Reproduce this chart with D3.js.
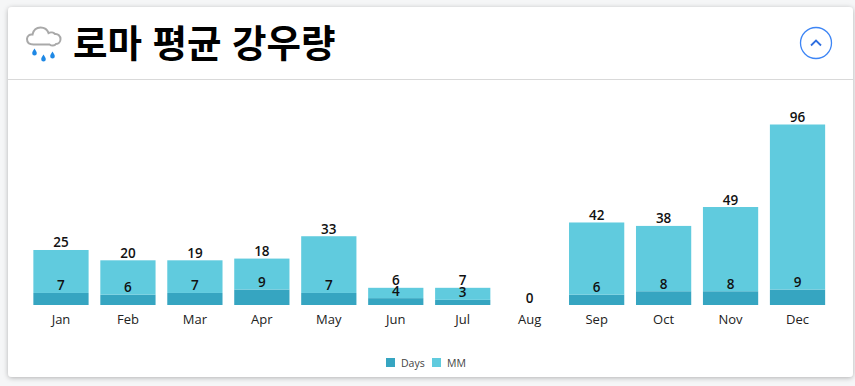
<!DOCTYPE html>
<html lang="ko">
<head>
<meta charset="utf-8">
<title>로마 평균 강우량</title>
<script src="https://cdn.jsdelivr.net/npm/d3@7"></script>
<style>
  html, body { margin: 0; padding: 0; background: #f5f6f7; overflow: hidden; }
  svg { display: block; }
</style>
</head>
<body>
<div id="chart"></div>
<script>
// Chart data
const months = ["Jan", "Feb", "Mar", "Apr", "May", "Jun", "Jul", "Aug", "Sep", "Oct", "Nov", "Dec"];
const days = [7, 6, 7, 9, 7, 4, 3, 0, 6, 8, 8, 9];
const mm = [25, 20, 19, 18, 33, 6, 7, 0, 42, 38, 49, 96];
const seriesNames = ["Days", "MM"];
const titleText = "로마 평균 강우량";

const width = 855;
const height = 386;
const colors = d3.scaleOrdinal().domain(seriesNames).range(["#36a5c1", "#60cbde"]);
const labelFont = "'Open Sans', 'Noto Sans', sans-serif";

const svg = d3.select("#chart")
  .append("svg")
  .attr("width", width)
  .attr("height", height);

const defs = svg.append("defs");
const shadow = defs.append("filter").attr("id", "cardShadow")
  .attr("x", "-5%").attr("y", "-5%").attr("width", "110%").attr("height", "110%");
shadow.append("feDropShadow")
  .attr("dx", 0).attr("dy", 1).attr("stdDeviation", 2.5)
  .attr("flood-color", "#000").attr("flood-opacity", 0.28);

// Card and header
svg.append("rect")
  .attr("x", 8).attr("y", 7)
  .attr("width", 845).attr("height", 370)
  .attr("rx", 4)
  .attr("fill", "#fff")
  .attr("filter", "url(#cardShadow)");

svg.append("line")
  .attr("x1", 8).attr("x2", 853)
  .attr("y1", 79.5).attr("y2", 79.5)
  .attr("stroke", "#d9d9d9");

svg.append("text")
  .attr("x", 73).attr("y", 57)
  .attr("font-family", "'Noto Sans CJK KR', sans-serif")
  .attr("font-weight", 700)
  .attr("font-size", 37.5)
  .attr("fill", "#000")
  .text(titleText);

// Rain cloud icon
const icon = svg.append("g").attr("transform", "translate(26.500,26.500)");
icon.append("path")
  .attr("d", "M7 18 C2.500 18 0.500 15.500 0.500 12.500 C0.500 9.500 3 7.500 6 8 C7 3.500 10 1 14 1 C18 1 21 3.500 22 6.500 C24 5.500 27 6 28.500 7.500 C31.500 7 34 9.500 34 12.500 C34 15.500 32 17.500 29.500 17.500 C28 19.500 25 19.500 23 18 Z")
  .attr("fill", "#fff")
  .attr("stroke", "#a9a9a9")
  .attr("stroke-width", 2);
const drops = [[8, 26], [17, 32], [26, 29]];
icon.selectAll("path.drop")
  .data(drops)
  .join("path")
  .attr("class", "drop")
  .attr("transform", d => `translate(${d[0]},${d[1]})`)
  .attr("d", "M0 -4 C1 -2 2.300 -1 2.300 0.800 A2.300 2.300 0 0 1 -2.300 0.800 C-2.300 -1 -1 -2 0 -4 Z")
  .attr("fill", "#1e88e5");

// Collapse button
const button = svg.append("g").attr("transform", "translate(816,43)");
button.append("circle")
  .attr("r", 15.500)
  .attr("fill", "#fff")
  .attr("stroke", "#3d85f5")
  .attr("stroke-width", 1.3);
button.append("path")
  .attr("d", "M-5 2.500 L0 -2.500 L5 2.500")
  .attr("fill", "none")
  .attr("stroke", "#2f6fe0")
  .attr("stroke-width", 1.800);

// Scales
const x = d3.scaleBand()
  .domain(months)
  .range([27.500, 831])
  .paddingInner(0.175)
  .paddingOuter(0.0875);

const y = d3.scaleLinear()
  .domain([0, 105])
  .range([305, 124.500]);

const rows = months.map((m, i) => ({ month: m, Days: days[i], MM: mm[i] }));
const stacked = d3.stack().keys(seriesNames)(rows);

// Bars
svg.append("g")
  .selectAll("g")
  .data(stacked)
  .join("g")
  .attr("fill", d => colors(d.key))
  .selectAll("rect")
  .data(d => d)
  .join("rect")
  .attr("x", d => x(d.data.month))
  .attr("y", d => y(d[1]))
  .attr("width", x.bandwidth())
  .attr("height", d => y(d[0]) - y(d[1]));

// Value labels above each segment
svg.append("g")
  .selectAll("g")
  .data(stacked)
  .join("g")
  .selectAll("text")
  .data(d => d.map(v => ({ v, key: d.key })))
  .join("text")
  .filter(d => !(d.key === "Days" && d.v.data.month === "Aug"))
  .attr("x", d => x(d.v.data.month) + x.bandwidth() / 2)
  .attr("y", d => y(d.v[1]) - 2.500)
  .attr("text-anchor", "middle")
  .attr("font-family", labelFont)
  .attr("font-weight", 600)
  .attr("font-size", 13.500)
  .attr("fill", "#111")
  .text(d => d.v.data[d.key]);

// X axis
const xAxis = svg.append("g")
  .attr("transform", "translate(0,305)")
  .call(d3.axisBottom(x).tickSize(0).tickPadding(9.500));
xAxis.select(".domain").remove();
xAxis.selectAll("text")
  .attr("font-family", labelFont)
  .attr("font-size", 13)
  .attr("fill", "#222");

// Legend
const legendX = [386, 432];
const legend = svg.append("g")
  .selectAll("g")
  .data(seriesNames)
  .join("g")
  .attr("transform", (d, i) => `translate(${legendX[i]},358)`);
legend.append("rect")
  .attr("width", 9).attr("height", 9)
  .attr("fill", d => colors(d));
legend.append("text")
  .attr("x", 15).attr("y", 9)
  .attr("font-family", labelFont)
  .attr("font-size", 10.500)
  .attr("fill", "#444")
  .text(d => d);
</script>
</body>
</html>
